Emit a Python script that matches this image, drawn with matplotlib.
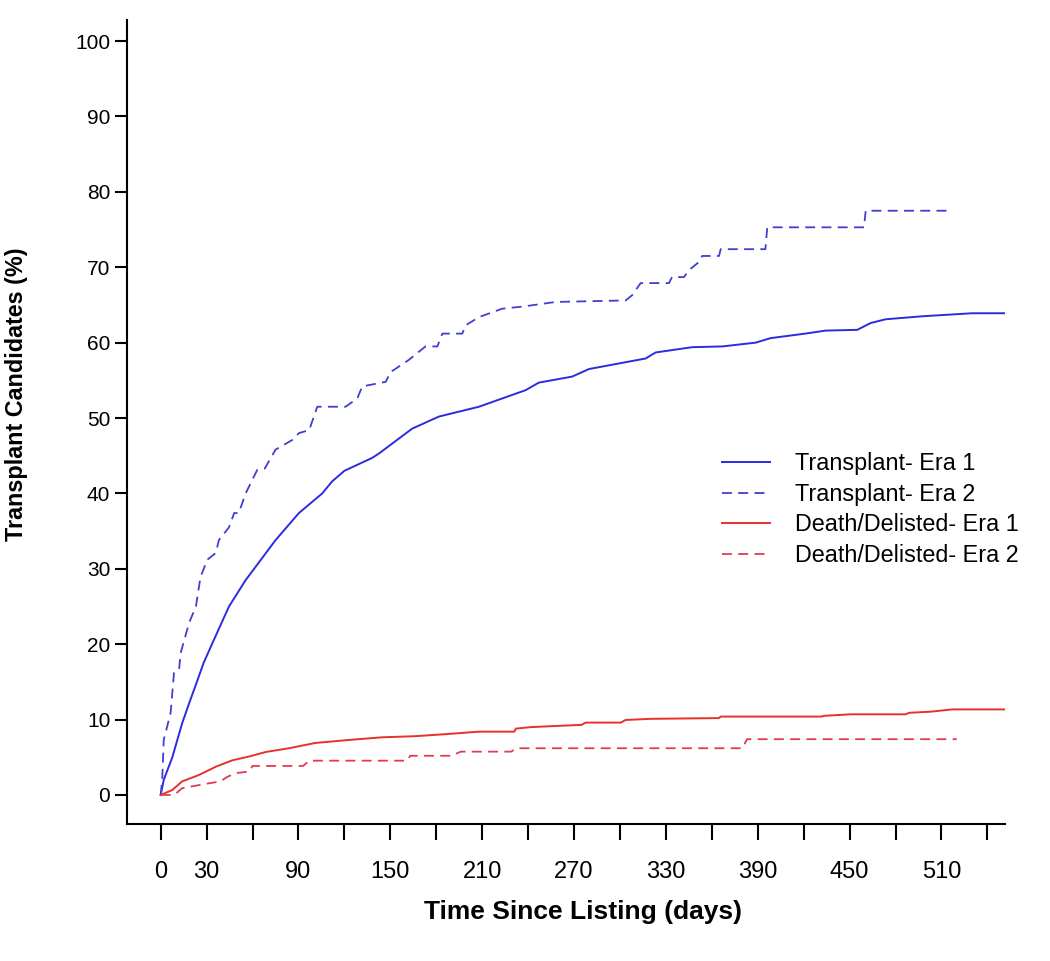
import matplotlib
matplotlib.use("Agg")
import matplotlib.pyplot as plt

plt.rcParams['font.family'] = ['Liberation Sans', 'DejaVu Sans']

# ---- data ----
tx1_days = [0, 2, 7.6, 14, 19, 24, 28, 33.7, 44.6, 55.5, 75, 90.3, 105.5, 112, 120, 138, 142.6,
            164.3, 181.8, 207.9, 238.4, 247, 268.8, 279.7, 316.8, 323.3, 347.2, 366.8, 388.6,
            398.4, 421, 434.4, 455, 463.7, 473.5, 497.5, 530, 551]
tx1_pct = [0, 2, 5.0, 9.5, 12.4, 15.2, 17.5, 20.1, 25, 28.5, 33.8, 37.4, 40, 41.6, 43.0, 44.7, 45.3,
           48.6, 50.2, 51.5, 53.7, 54.7, 55.5, 56.5, 57.9, 58.7, 59.4, 59.5, 60.0,
           60.6, 61.2, 61.6, 61.7, 62.6, 63.1, 63.5, 63.9, 63.9]

tx2_days = [0, 1, 2, 6.5, 8.7, 12, 13, 18.5, 23, 26, 30.4, 36, 38, 44.6, 48, 51, 55.5, 63, 68, 75,
            86, 90.3, 97, 102.3, 120.8, 128.4, 131.7, 147, 150.2, 162, 173, 180.7, 184, 197,
            199.2, 208, 223, 237, 258, 303.7, 308, 313.5, 332, 334, 341.8, 345, 351.6, 353.7,
            364.7, 365.8, 395, 396.2, 459.4, 460.5, 516]
tx2_pct = [0, 2, 7.3, 10.9, 16.2, 16.6, 18.8, 22.8, 25, 28.9, 31.2, 32.1, 33.8, 35.5, 37.4, 37.4,
           40, 43.1, 43.3, 45.8, 47.1, 48.0, 48.4, 51.5, 51.5, 52.6, 54.2, 54.8, 56.1, 57.7,
           59.5, 59.5, 61.2, 61.2, 62.3, 63.4, 64.5, 64.8, 65.4, 65.6, 66.3, 67.9, 67.9, 68.7,
           68.7, 69.6, 70.7, 71.5, 71.5, 72.4, 72.4, 75.3, 75.3, 77.5, 77.5]

dd1_days = [0, 7.6, 14, 25, 36, 46.8, 57.7, 68.6, 83.8, 101, 123, 144.7, 166.5, 188.3, 208, 231,
            232, 241.7, 258, 275, 277.6, 300.5, 303.7, 320, 364.7, 365.8, 432, 433.3, 450.7,
            486.6, 488.8, 503, 517, 551]
dd1_pct = [0, 0.66, 1.8, 2.65, 3.75, 4.6, 5.1, 5.7, 6.2, 6.9, 7.3, 7.65, 7.8, 8.1, 8.4, 8.4,
           8.8, 9.0, 9.15, 9.3, 9.6, 9.6, 9.95, 10.1, 10.2, 10.4, 10.4, 10.5, 10.7,
           10.7, 10.9, 11.05, 11.35, 11.35]

dd2_days = [0, 8, 10, 14, 29, 39, 43.5, 49, 57.7, 60, 93, 97, 161, 163, 190, 196, 229, 232,
            380, 383, 520]
dd2_pct = [0, 0, 0.2, 0.9, 1.46, 1.8, 2.4, 2.9, 3.1, 3.85, 3.85, 4.55, 4.55, 5.2, 5.2, 5.75,
           5.75, 6.2, 6.2, 7.4, 7.4]

labels = ["Transplant- Era 1", "Transplant- Era 2",
          "Death/Delisted- Era 1", "Death/Delisted- Era 2"]

x_ticks = list(range(0, 541, 30))
x_ticklabels = ["0", "30", "", "90", "", "150", "", "210", "", "270", "", "330", "", "390",
                "", "450", "", "510", ""]
y_ticks = list(range(0, 101, 10))

# ---- figure ----
W, H = 1050, 961
fig = plt.figure(figsize=(W / 100, H / 100), dpi=100)
ax = fig.add_axes([127 / W, 1 - 824 / H, (1005 - 127) / W, (824 - 20) / H])

dash = (5.5, 3.5)
ax.plot(tx1_days, tx1_pct, color='#2b2be0', lw=1.4, label=labels[0])
ax.plot(tx2_days, tx2_pct, color='#3f3fd0', lw=1.3, dashes=dash, label=labels[1])
ax.plot(dd1_days, dd1_pct, color='#e8302c', lw=1.4, label=labels[2])
ax.plot(dd2_days, dd2_pct, color='#e23a55', lw=1.3, dashes=dash, label=labels[3])

ax.set_xlim(-22, 551.5)
ax.set_ylim(-3.85, 102.8)

for s in ['top', 'right']:
    ax.spines[s].set_visible(False)
for s in ['left', 'bottom']:
    ax.spines[s].set_linewidth(1.5)
    ax.spines[s].set_color('black')

ax.set_xticks(x_ticks)
ax.set_xticklabels(x_ticklabels)
ax.set_yticks(y_ticks)
ax.set_yticklabels([str(v) for v in y_ticks])
ax.tick_params(axis='x', length=11.5, width=1.5, pad=15, labelsize=17)
ax.tick_params(axis='y', length=9, width=1.5, pad=3, labelsize=15)

fig.text(17 / W, 1 - 394 / H, "Transplant Candidates (%)", rotation=90, fontsize=16.8,
         fontweight='bold', ha='center', va='center')
fig.text(583 / W, 1 - 912 / H, "Time Since Listing (days)", fontsize=19,
         fontweight='bold', ha='center', va='center')

ax.legend(loc='upper left', bbox_to_anchor=(722 / W, 1 - 452 / H),
          bbox_transform=fig.transFigure, frameon=False, fontsize=16.8,
          handlelength=2.06, handletextpad=1.07, labelspacing=0.33,
          borderpad=0, borderaxespad=0)

fig.savefig("out.png", dpi=100)
